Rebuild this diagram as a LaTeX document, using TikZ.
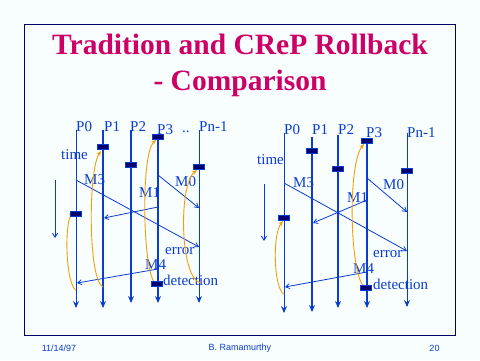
\documentclass[tikz,border=0pt]{standalone}
\usepackage{fontspec}
\setmainfont{Liberation Serif}[BoldFont={Liberation Serif Bold}]
\newfontfamily\footfont{Liberation Sans}
\usetikzlibrary{arrows.meta}
\definecolor{bg}{HTML}{F8FEFE}
\definecolor{framec}{HTML}{000066}
\definecolor{titlec}{HTML}{CC0066}
\definecolor{lineblue}{HTML}{0A3CD0}
\definecolor{marknavy}{HTML}{000070}
\definecolor{rollorange}{HTML}{F5A000}
\begin{document}
\begin{tikzpicture}[x=1pt,y=-1pt,
  procline/.style={draw=lineblue,-{Stealth[length=7pt,width=6pt,inset=2.5pt]}},
  pthin/.style={procline,line width=0.9pt},
  pmid/.style={procline,line width=1.3pt},
  pthick/.style={procline,line width=2.6pt},
  ckpt/.style={draw=lineblue,fill=marknavy,line width=0.8pt,minimum width=11pt,minimum height=4.5pt,inner sep=0pt},
  msg/.style={draw=lineblue,line width=0.8pt,-{Straight Barb[length=4pt,width=5pt]}},
  roll/.style={draw=rollorange,line width=0.9pt,-{Stealth[length=5pt,width=4pt]}},
  lbl/.style={text=lineblue,font=\fontsize{15}{15}\selectfont,inner sep=0pt,anchor=base west},
  titletext/.style={text=titlec,font=\bfseries\fontsize{29.5}{30}\selectfont,inner sep=0pt,anchor=base},
  foot/.style={text=lineblue,font=\footfont\fontsize{9}{9}\selectfont,inner sep=0pt},
  tick/.style={draw=lineblue,line width=1.8pt},
  timearrow/.style={draw=lineblue,line width=0.9pt,-{Straight Barb[length=4pt,width=5pt]}}
]
\useasboundingbox (0,0) rectangle (480,360);
\fill[bg] (0,0) rectangle (480,360);
\draw[framec,line width=1pt] (24,24) rectangle (455,335);

% title
\node[titletext] (t1) at (240,54) {Tradition and CReP Rollback};
\node[titletext] (t2) at (240,90) {- Comparison};

% ===== LEFT DIAGRAM =====
\coordinate (LP0t) at (76,130);  \coordinate (LP0b) at (76,308);
\coordinate (LP1t) at (103,130); \coordinate (LP1b) at (103,308);
\coordinate (LP2t) at (131,130); \coordinate (LP2b) at (131,303);
\coordinate (LP3t) at (158,137); \coordinate (LP3b) at (158,303);
\coordinate (LPnt) at (199,130); \coordinate (LPnb) at (199,303);
\draw[pthin]  (LP0t) -- (LP0b);
\draw[pthick] (LP1t) -- (LP1b);
\draw[pthick] (LP2t) -- (LP2b);
\draw[pmid]   (LP3t) -- (LP3b);
\draw[pthin]  (LPnt) -- (LPnb);

\node[lbl] (lp0) at (76,131) {P0};
\node[lbl] (lp1) at (104,131) {P1};
\node[lbl] (lp2) at (130,131) {P2};
\node[lbl] (lp3) at (157,134) {P3};
\node[lbl] (ldots) at (182,132) {..};
\node[lbl] (lpn) at (199,131) {Pn-1};
\node[lbl] (ltime) at (61,159) {time};

\coordinate (LTa) at (55,180); \coordinate (LTb) at (55,238);
\draw[timearrow] (LTa) -- (LTb);

% messages
\coordinate (LM3s) at (76,180);  \coordinate (LM3e) at (199,247);
\coordinate (LM1s) at (158,207); \coordinate (LM1e) at (104,218);
\coordinate (LM0s) at (158,175); \coordinate (LM0e) at (199,208);
\coordinate (LM4s) at (158,269); \coordinate (LM4e) at (77,283);
\draw[msg] (LM3s) -- (LM3e);
\draw[msg] (LM1s) -- (LM1e);
\draw[msg] (LM0s) -- (LM0e);
\draw[msg] (LM4s) -- (LM4e);
\node[lbl] (lm3) at (84,184) {M3};
\node[lbl] (lm1) at (139,197) {M1};
\node[lbl] (lm0) at (175,186) {M0};
\node[lbl] (lm4) at (145,269) {M4};
\node[lbl] (lerr) at (165,254) {error};
\node[lbl] (ldet) at (163,285) {detection};
\coordinate (LTk1) at (158,242.5); \coordinate (LTk2) at (158,246.5);
\draw[tick] (LTk1) -- (LTk2);

% rollback curves
\coordinate (LR0s) at (76,290);  \coordinate (LR0e) at (73,212);
\coordinate (LR1s) at (103,287); \coordinate (LR1e) at (101,151);
\coordinate (LR3s) at (156,283); \coordinate (LR3e) at (156,140);
\coordinate (LRns) at (201,283); \coordinate (LRne) at (197,170);
\draw[roll] (LR0s) .. controls (66,285) and (64,225) .. (LR0e);
\draw[roll] (LR1s) .. controls (88,280) and (88,170) .. (LR1e);
\draw[roll] (LR3s) .. controls (143,280) and (140,155) .. (LR3e);
\draw[roll] (LRns) .. controls (180,280) and (178,185) .. (LRne);

% checkpoints
\node[ckpt] (lc0) at (76,214) {};
\node[ckpt] (lc1) at (103,147) {};
\node[ckpt] (lc2) at (131,165) {};
\node[ckpt] (lc3) at (158,137) {};
\node[ckpt] (lcn) at (199,167) {};
\node[ckpt] (lc3b) at (157,284) {};

% ===== RIGHT DIAGRAM =====
\coordinate (RP0t) at (284,133); \coordinate (RP0b) at (284,313);
\coordinate (RP1t) at (312,137); \coordinate (RP1b) at (312,312);
\coordinate (RP2t) at (338,135); \coordinate (RP2b) at (338,308);
\coordinate (RP3t) at (367,141); \coordinate (RP3b) at (367,308);
\coordinate (RPnt) at (407,133); \coordinate (RPnb) at (407,307);
\draw[pthin]  (RP0t) -- (RP0b);
\draw[pthick] (RP1t) -- (RP1b);
\draw[pthick] (RP2t) -- (RP2b);
\draw[pmid]   (RP3t) -- (RP3b);
\draw[pthin]  (RPnt) -- (RPnb);

\node[lbl] (rp0) at (284,134) {P0};
\node[lbl] (rp1) at (312,134) {P1};
\node[lbl] (rp2) at (338,134) {P2};
\node[lbl] (rp3) at (366,137) {P3};
\node[lbl] (rpn) at (407,137) {Pn-1};
\node[lbl] (rtime) at (257,164) {time};

\coordinate (RTa) at (264,184); \coordinate (RTb) at (264,241);
\draw[timearrow] (RTa) -- (RTb);

\coordinate (RM3s) at (284,183); \coordinate (RM3e) at (407,251);
\coordinate (RM1s) at (367,200); \coordinate (RM1e) at (313,223);
\coordinate (RM0s) at (367,178); \coordinate (RM0e) at (407,212);
\coordinate (RM4s) at (367,272); \coordinate (RM4e) at (285,287);
\draw[msg] (RM3s) -- (RM3e);
\draw[msg] (RM1s) -- (RM1e);
\draw[msg] (RM0s) -- (RM0e);
\draw[msg] (RM4s) -- (RM4e);
\node[lbl] (rm3) at (293,187) {M3};
\node[lbl] (rm1) at (347,202) {M1};
\node[lbl] (rm0) at (383,189) {M0};
\node[lbl] (rm4) at (353,273) {M4};
\node[lbl] (rerr) at (373,257) {error};
\node[lbl] (rdet) at (373,289) {detection};
\coordinate (RTk1) at (367,246.5); \coordinate (RTk2) at (367,250.5);
\draw[tick] (RTk1) -- (RTk2);

\coordinate (RR0s) at (284,294); \coordinate (RR0e) at (283,221);
\coordinate (RR3s) at (365,287); \coordinate (RR3e) at (364,144);
\draw[roll] (RR0s) .. controls (274,290) and (272,235) .. (RR0e);
\draw[roll] (RR3s) .. controls (350,280) and (347,165) .. (RR3e);

\node[ckpt] (rc0) at (284,218) {};
\node[ckpt] (rc1) at (312,151) {};
\node[ckpt] (rc2) at (338,169) {};
\node[ckpt] (rc3) at (367,141) {};
\node[ckpt] (rcn) at (407,171) {};
\node[ckpt] (rc3b) at (366,288) {};

% footer
\node[foot] (fdate) at (59,348) {11/14/97};
\node[foot] (fauth) at (240,348) {B. Ramamurthy};
\node[foot] (fpage) at (434.5,348) {20};
\end{tikzpicture}
\end{document}
